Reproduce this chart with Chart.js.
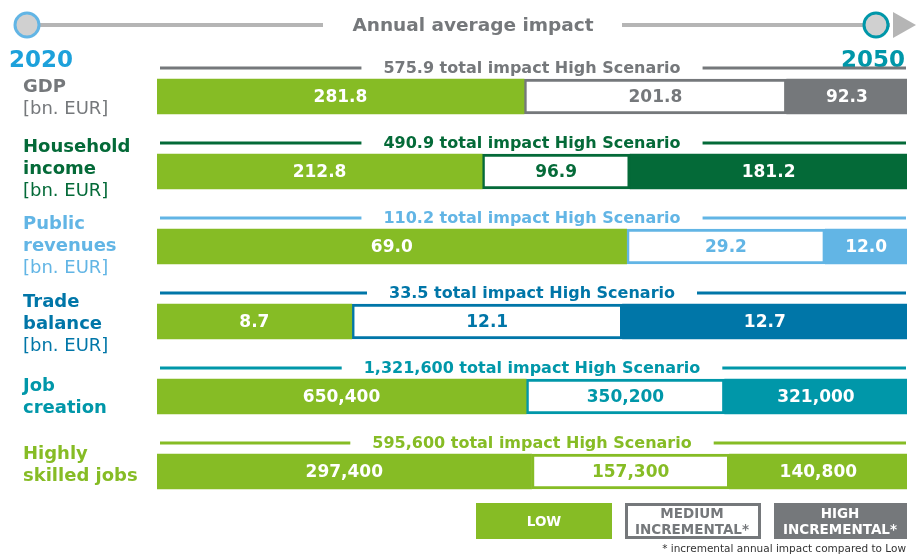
<!doctype html>
<html>
  <head>
    <script src="https://cdn.jsdelivr.net/npm/chart.js@4.4.1/dist/chart.umd.min.js"></script>
    <title>Annual average impact</title>
    <style>
    body { margin: 0; background: #fff; }
    #wrap { width: 916px; height: 556px; }
    </style>
  </head>
  <body>
    <div id="wrap"><canvas id="ImpactChart" width="916" height="556"></canvas></div>
    <script>
    // values
    var categories = ['GDP', 'Household income', 'Public revenues', 'Trade balance', 'Job creation', 'Highly skilled jobs'];
    var labelLines = [['GDP'], ['Household', 'income'], ['Public', 'revenues'], ['Trade', 'balance'], ['Job', 'creation'], ['Highly', 'skilled jobs']];
    var units = ['[bn. EUR]', '[bn. EUR]', '[bn. EUR]', '[bn. EUR]', null, null];
    var decimals = [1, 1, 1, 1, 0, 0];
    var lowValues = [281.8, 212.8, 69.0, 8.7, 650400, 297400];
    var mediumValues = [201.8, 96.9, 29.2, 12.1, 350200, 157300];
    var highValues = [92.3, 181.2, 12.0, 12.7, 321000, 140800];
    var totals = [575.9, 490.9, 110.2, 33.5, 1321600, 595600];
    var rowColors = ['#75787b', '#046a38', '#62b5e5', '#0076a8', '#0097a9', '#86bc25'];

    var LOW = '#86bc25';
    var GRAY = '#75787b';
    var FONT = '"DejaVu Sans", Verdana, sans-serif';

    function pct(arr) {
      return arr.map(function(v, i) {
        return v / (lowValues[i] + mediumValues[i] + highValues[i]) * 100;
      });
    }
    function fmt(v, i) {
      if (decimals[i] > 0) return v.toFixed(decimals[i]);
      return Math.round(v).toLocaleString('en-US');
    }

    var overlay = {
      id: 'overlay',
      afterDatasetsDraw: function(chart) {
        var ctx = chart.ctx;
        var area = chart.chartArea;
        var metas = [chart.getDatasetMeta(0), chart.getDatasetMeta(1), chart.getDatasetMeta(2)];
        var raw = [lowValues, mediumValues, highValues];
        // small nudges so the left labels sit like the original
        var labelShift = [2, -2, 0, 3, 1, -6];
        ctx.save();

        // top timeline
        ctx.strokeStyle = '#b5b5b5';
        ctx.lineWidth = 4;
        ctx.beginPath(); ctx.moveTo(38, 25); ctx.lineTo(323, 25); ctx.stroke();
        ctx.beginPath(); ctx.moveTo(622, 25); ctx.lineTo(890, 25); ctx.stroke();
        ctx.fillStyle = '#b5b5b5';
        ctx.beginPath(); ctx.moveTo(893, 12); ctx.lineTo(916, 25); ctx.lineTo(893, 38); ctx.closePath(); ctx.fill();
        [[27, '#62b5e5'], [876, '#0097a9']].forEach(function(c) {
          ctx.beginPath(); ctx.arc(c[0], 25, 12, 0, Math.PI * 2);
          ctx.fillStyle = '#d0d0d0'; ctx.fill();
          ctx.lineWidth = 3; ctx.strokeStyle = c[1]; ctx.stroke();
        });
        ctx.font = 'bold 18.5px ' + FONT;
        ctx.fillStyle = GRAY;
        ctx.textAlign = 'center'; ctx.textBaseline = 'middle';
        ctx.fillText('Annual average impact', 473, 26);
        ctx.font = 'bold 23px ' + FONT;
        ctx.textBaseline = 'alphabetic';
        ctx.textAlign = 'left'; ctx.fillStyle = '#1da1db';
        ctx.fillText('2020', 9, 67);
        ctx.textAlign = 'right'; ctx.fillStyle = '#0097a9';
        ctx.fillText('2050', 905, 67);

        for (var i = 0; i < categories.length; i++) {
          var col = rowColors[i];
          var low = metas[0].data[i];
          var top = low.y - low.height / 2;

          // header line with total
          var ty = top - 11;
          var txt = fmt(totals[i], i) + ' total impact High Scenario';
          ctx.font = 'bold 16px ' + FONT;
          var tw = ctx.measureText(txt).width;
          var cx = (area.left + area.right) / 2;
          ctx.strokeStyle = col; ctx.lineWidth = 3;
          ctx.beginPath(); ctx.moveTo(area.left + 3, ty); ctx.lineTo(cx - tw / 2 - 22, ty); ctx.stroke();
          ctx.beginPath(); ctx.moveTo(cx + tw / 2 + 22, ty); ctx.lineTo(area.right - 1, ty); ctx.stroke();
          ctx.fillStyle = col; ctx.textAlign = 'center'; ctx.textBaseline = 'middle';
          ctx.fillText(txt, cx, ty + 1);

          // segment values
          ctx.font = 'bold 17px ' + FONT;
          for (var d = 0; d < 3; d++) {
            var el = metas[d].data[i];
            ctx.fillStyle = d === 1 ? col : '#fff';
            ctx.fillText(fmt(raw[d][i], i), (el.x + el.base) / 2, el.y + 1);
          }

          // row label on the left
          var lines = labelLines[i];
          var n = lines.length + (units[i] ? 1 : 0);
          var y0 = low.y - (n - 1) * 22 / 2 + labelShift[i];
          ctx.textAlign = 'left';
          ctx.fillStyle = col;
          ctx.font = 'bold 18px ' + FONT;
          for (var k = 0; k < lines.length; k++) {
            ctx.fillText(lines[k], 23, y0 + k * 22);
          }
          if (units[i]) {
            ctx.font = '18px ' + FONT;
            ctx.fillText(units[i], 23, y0 + lines.length * 22);
          }
        }

        // legend
        ctx.font = 'bold 13.5px ' + FONT;
        ctx.textAlign = 'center'; ctx.textBaseline = 'middle';
        ctx.fillStyle = LOW; ctx.fillRect(476, 503, 136, 36);
        ctx.fillStyle = '#fff'; ctx.fillText('LOW', 544, 522);
        ctx.strokeStyle = GRAY; ctx.lineWidth = 3;
        ctx.strokeRect(626.5, 504.5, 133, 33);
        ctx.fillStyle = GRAY;
        ctx.fillText('MEDIUM', 692, 514); ctx.fillText('INCREMENTAL*', 692, 530);
        ctx.fillStyle = GRAY; ctx.fillRect(774, 503, 133, 36);
        ctx.fillStyle = '#fff';
        ctx.fillText('HIGH', 840, 514); ctx.fillText('INCREMENTAL*', 840, 530);
        ctx.font = '10.5px ' + FONT;
        ctx.fillStyle = '#333';
        ctx.textAlign = 'right';
        ctx.fillText('* incremental annual impact compared to Low', 906, 549);
        ctx.restore();
      }
    };

    var ctx = document.getElementById('ImpactChart');
    var myChart = new Chart(ctx, {
      type: 'bar',
      data: {
        labels: categories,
        datasets: [
          { label: 'Low', data: pct(lowValues), backgroundColor: LOW, borderWidth: 0 },
          { label: 'Medium incremental*', data: pct(mediumValues), backgroundColor: '#fff',
            borderColor: rowColors, borderWidth: 3, borderSkipped: false },
          { label: 'High incremental*', data: pct(highValues), backgroundColor: rowColors, borderWidth: 0 }
        ]
      },
      options: {
        indexAxis: 'y',
        responsive: false,
        animation: false,
        barThickness: 35,
        layout: { padding: { left: 157, right: 9, top: 59, bottom: 47 } },
        scales: {
          x: { stacked: true, min: 0, max: 100, display: false },
          y: { stacked: true, display: false }
        },
        plugins: {
          legend: { display: false },
          tooltip: { enabled: false }
        }
      },
      plugins: [overlay]
    });
    </script>
  </body>
</html>
